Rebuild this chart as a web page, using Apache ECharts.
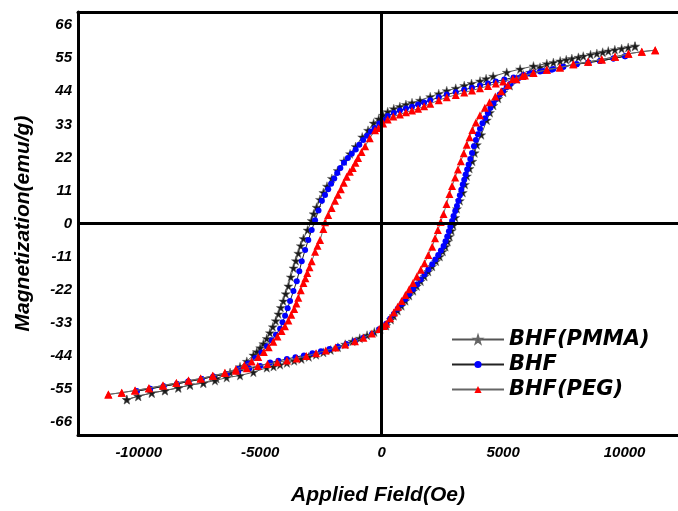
<!DOCTYPE html>
<html>
<head>
<meta charset="utf-8">
<script src="https://cdn.jsdelivr.net/npm/echarts@6/dist/echarts.min.js"></script>
<style>
html,body{margin:0;padding:0;background:#fff;}
#chart{width:678px;height:511px;}
</style>
</head>
<body>
<div id="chart"></div>
<script>
// ---- data: [Applied Field (Oe), Magnetization (emu/g)] ----
const seriesNames = ['BHF(PMMA)', 'BHF', 'BHF(PEG)'];
const xTickLabels = [-10000, -5000, 0, 5000, 10000];
const yTickLabels = [-66, -55, -44, -33, -22, -11, 0, 11, 22, 33, 44, 55, 66];

const pmmaDown = [[10430,59.0],[9880,58.2],[9330,57.4],[8860,56.6],[8300,55.7],[7830,54.9],[7350,54.1],[6800,53.2],[6250,52.4],[5700,51.4],[5150,50.3],[4590,49.0],[4300,48.2],[4050,47.4],[3700,46.6],[3400,45.9],[3050,45.0],[2680,44.2],[2350,43.2],[2000,42.2],[1580,41.0],[1250,40.2],[1000,39.6],[750,38.9],[500,38.2],[250,37.2],[60,36.0],[-120,34.8],[-330,33.4],[-560,31.0],[-800,28.8],[-1070,25.6],[-1300,23.2],[-1550,20.8],[-1810,17.6],[-2050,15.0],[-2250,12.4],[-2400,10.3],[-2540,8.0],[-2680,5.4],[-2800,3.2],[-2885,1.0],[-3050,-2.2],[-3220,-5.0],[-3330,-7.4],[-3430,-9.9],[-3530,-12.4],[-3630,-14.8],[-3740,-17.8],[-3840,-20.8],[-3950,-23.4],[-4050,-25.8],[-4150,-28.0],[-4250,-30.1],[-4360,-32.4],[-4480,-34.4],[-4600,-36.4],[-4730,-38.3],[-4870,-40.0],[-5000,-41.4],[-5140,-42.7],[-5280,-43.8],[-5550,-45.9],[-5830,-47.7],[-6240,-49.6],[-6800,-51.6],[-7340,-53.1],[-7890,-53.8],[-8370,-54.7],[-8920,-55.6],[-9465,-56.4],[-10020,-57.5],[-10490,-58.6]];
const pmmaUp = [[-10490,-58.6],[-10020,-57.5],[-9465,-56.4],[-8920,-55.6],[-8370,-54.7],[-7890,-53.7],[-7340,-53.1],[-6860,-52.3],[-6380,-51.3],[-5830,-50.6],[-5280,-49.5],[-4730,-48.0],[-4450,-47.6],[-4180,-47.0],[-3900,-46.4],[-3600,-45.7],[-3300,-45.1],[-3000,-44.4],[-2700,-43.7],[-2400,-42.9],[-2100,-42.1],[-1800,-41.2],[-1500,-40.2],[-1200,-39.2],[-900,-38.2],[-600,-37.2],[-300,-36.1],[-50,-35.1],[190,-34.0],[380,-32.0],[500,-30.7],[660,-29.0],[820,-27.4],[980,-25.7],[1135,-24.0],[1300,-22.4],[1450,-20.8],[1610,-19.2],[1765,-17.6],[1920,-16.0],[2080,-14.3],[2240,-12.6],[2395,-11.0],[2520,-9.3],[2630,-7.7],[2720,-6.0],[2800,-4.3],[2880,-2.4],[2950,-0.6],[3030,2.0],[3100,4.9],[3220,7.6],[3340,10.3],[3430,13.0],[3510,15.8],[3620,18.3],[3735,20.7],[3830,23.5],[3920,26.2],[4100,29.5],[4330,34.4],[4460,36.9],[4600,39.3],[4800,41.6],[5010,43.7],[5280,45.9],[5560,48.1],[5830,49.4],[6110,50.3],[6520,52.0],[7070,53.6],[7600,54.5],[8100,55.3],[8600,56.2],[9100,57.0],[9600,57.8],[10150,58.6],[10430,59.0]];

const bhfDown = [[10020,55.7],[9540,54.9],[8990,54.1],[8510,53.6],[8030,53.0],[7480,52.2],[7070,51.4],[6650,50.8],[6250,50.2],[5830,49.4],[5430,48.6],[5050,47.9],[4700,47.3],[4380,46.6],[4050,45.9],[3720,45.2],[3400,44.5],[3050,43.7],[2680,42.9],[2350,42.0],[2000,41.0],[1750,40.3],[1500,39.6],[1250,38.9],[1000,38.3],[750,37.6],[500,36.8],[250,35.8],[60,34.4],[-100,33.3],[-280,31.8],[-440,30.6],[-600,29.2],[-760,27.8],[-920,26.2],[-1070,24.6],[-1230,23.2],[-1390,21.8],[-1550,20.2],[-1700,18.5],[-1830,16.8],[-1950,15.0],[-2080,13.2],[-2200,11.4],[-2330,9.5],[-2460,7.6],[-2600,4.3],[-2740,1.1],[-2880,-2.2],[-3020,-5.5],[-3150,-8.8],[-3290,-12.6],[-3390,-15.9],[-3495,-19.2],[-3630,-22.5],[-3770,-25.8],[-3870,-28.2],[-3975,-30.7],[-4080,-32.9],[-4180,-35.0],[-4350,-37.0],[-4525,-38.9],[-4720,-40.9],[-4950,-42.9],[-5200,-44.8],[-5500,-46.6],[-5900,-48.4],[-6380,-50.1],[-6930,-50.9],[-7410,-51.8],[-7960,-52.6],[-8430,-53.4],[-8980,-54.2],[-9530,-55.0],[-10080,-55.8]];
const bhfUp = [[-10080,-55.8],[-9530,-55.0],[-8980,-54.2],[-8430,-53.4],[-7960,-52.6],[-7410,-51.8],[-6930,-50.9],[-6380,-50.1],[-5900,-49.2],[-5450,-48.3],[-5000,-47.4],[-4590,-46.3],[-4250,-45.7],[-3900,-45.1],[-3550,-44.5],[-3200,-43.9],[-2850,-43.2],[-2500,-42.5],[-2150,-41.8],[-1800,-41.0],[-1450,-40.1],[-1100,-39.1],[-750,-38.0],[-400,-36.8],[-100,-35.2],[190,-33.4],[350,-31.7],[500,-30.1],[660,-28.4],[820,-26.8],[980,-25.1],[1135,-23.5],[1290,-21.9],[1450,-20.3],[1610,-18.6],[1765,-17.0],[1920,-15.3],[2080,-13.6],[2210,-12.0],[2330,-10.5],[2440,-9.0],[2550,-7.5],[2630,-5.9],[2700,-4.3],[2770,-2.6],[2830,-1.0],[2900,0.8],[2960,2.5],[3030,4.2],[3100,5.8],[3160,7.6],[3220,9.4],[3280,11.2],[3340,13.0],[3400,14.6],[3460,16.3],[3520,18.0],[3580,19.6],[3650,21.5],[3720,23.5],[3800,25.7],[3880,27.8],[3960,29.7],[4050,31.5],[4150,33.4],[4260,35.0],[4370,36.8],[4480,38.5],[4600,40.0],[4720,41.5],[4860,42.9],[5000,44.2],[5150,45.4],[5300,46.5],[5470,47.5],[5650,48.4],[5870,49.2],[6100,49.9],[6520,50.6],[7000,51.2],[7480,52.2],[8030,53.0],[8510,53.6],[8990,54.1],[9540,54.9],[10020,55.7]];

const pegDown = [[11260,57.7],[10710,57.2],[10160,56.5],[9610,55.5],[9060,54.6],[8500,53.8],[7890,53.0],[7340,51.9],[6800,51.2],[6250,50.1],[5800,49.1],[5400,48.1],[5000,47.3],[4700,46.6],[4380,45.8],[4050,45.0],[3720,44.3],[3400,43.6],[3050,42.8],[2680,42.0],[2350,41.0],[2000,39.9],[1750,39.0],[1500,38.2],[1250,37.6],[1000,37.0],[750,36.3],[480,35.6],[250,34.6],[60,33.3],[-126,31.8],[-272,31.0],[-490,28.4],[-680,25.7],[-830,23.8],[-970,21.8],[-1080,20.2],[-1190,18.5],[-1310,17.2],[-1440,15.6],[-1560,13.6],[-1680,11.4],[-1800,9.6],[-1920,7.6],[-2060,5.2],[-2200,2.8],[-2330,0.4],[-2400,-1.8],[-2535,-5.5],[-2640,-7.4],[-2740,-9.4],[-2880,-12.6],[-2970,-14.6],[-3060,-16.5],[-3140,-18.2],[-3220,-19.8],[-3330,-22.2],[-3430,-24.7],[-3510,-26.6],[-3600,-28.5],[-3720,-30.4],[-3840,-32.3],[-3980,-34.2],[-4120,-35.8],[-4290,-37.6],[-4460,-39.4],[-4650,-41.2],[-4850,-42.8],[-5080,-44.4],[-5350,-45.9],[-5650,-47.2],[-6000,-48.5],[-6450,-49.7],[-6950,-50.7],[-7450,-51.6],[-7950,-52.3],[-8450,-53.1],[-9000,-53.9],[-9580,-54.8],[-10150,-55.6],[-10700,-56.3],[-11250,-56.9]];
const pegUp = [[-11250,-56.9],[-10700,-56.3],[-10150,-55.6],[-9580,-54.8],[-9000,-53.9],[-8450,-53.1],[-7950,-52.3],[-7450,-51.6],[-6950,-50.7],[-6450,-49.8],[-6000,-49.0],[-5550,-48.2],[-5100,-47.4],[-4700,-46.8],[-4300,-46.2],[-3900,-45.6],[-3500,-44.9],[-3100,-44.1],[-2700,-43.2],[-2300,-42.3],[-1900,-41.3],[-1500,-40.3],[-1100,-39.2],[-750,-38.0],[-400,-36.6],[-100,-35.1],[100,-34.1],[190,-33.4],[350,-31.5],[500,-29.6],[660,-27.7],[820,-25.8],[980,-23.8],[1135,-21.9],[1290,-19.8],[1450,-17.6],[1610,-15.4],[1765,-13.2],[1920,-10.5],[2080,-7.7],[2200,-4.9],[2315,-2.2],[2430,0.5],[2550,3.2],[2670,6.5],[2790,9.8],[2900,12.5],[3025,15.3],[3140,18.0],[3260,20.7],[3380,23.4],[3500,26.2],[3620,28.7],[3735,31.1],[3880,33.6],[4050,36.0],[4250,38.5],[4440,40.4],[4680,42.3],[4920,44.0],[5200,46.0],[5550,48.0],[5900,49.3],[6250,50.1],[6800,51.2],[7340,51.9],[7890,53.0],[8500,53.8],[9060,54.6],[9610,55.5],[10160,56.5],[10710,57.2],[11260,57.7]];

const STAR = 'path://M50,0 L61,35 L98,35 L68,57 L79,91 L50,70 L21,91 L32,57 L2,35 L39,35 Z';
const FONT = "'Liberation Sans', Arial, sans-serif";
const plain = v => String(v);

const chart = echarts.init(document.getElementById('chart'), null, {renderer: 'canvas'});
chart.setOption({
  animation: false,
  backgroundColor: '#ffffff',
  grid: {left: 78, right: 0, top: 12, bottom: 70, containLabel: false},
  legend: {
    orient: 'vertical',
    left: 446, top: 324,
    itemWidth: 52, itemHeight: 9, itemGap: 4,
    data: seriesNames,
    textStyle: {fontFamily: "'DejaVu Sans', sans-serif", fontSize: 21, fontWeight: 'bold', fontStyle: 'italic', color: '#000', lineHeight: 21}
  },
  xAxis: [{
    type: 'value', min: -12500, max: 12200, position: 'bottom',
    name: 'Applied Field(Oe)', nameLocation: 'middle', nameGap: 50,
    nameTextStyle: {fontFamily: FONT, fontSize: 21, fontWeight: 'bold', fontStyle: 'italic', color: '#000'},
    axisLine: {show: true, onZero: false, lineStyle: {color: '#000', width: 3}},
    axisTick: {show: false},
    splitLine: {show: false},
    axisLabel: {customValues: xTickLabels, formatter: plain, margin: 10, fontFamily: FONT, fontSize: 15, fontWeight: 'bold', fontStyle: 'italic', color: '#000'}
  }, {
    type: 'value', min: -12500, max: 12200, position: 'top',
    axisLine: {show: true, onZero: false, lineStyle: {color: '#000', width: 3}},
    axisTick: {show: false}, axisLabel: {show: false}, splitLine: {show: false}
  }],
  yAxis: {
    type: 'value', min: -70.4, max: 70.4,
    name: 'Magnetization(emu/g)', nameLocation: 'middle', nameGap: 44, nameRotate: 90,
    nameTextStyle: {fontFamily: FONT, fontSize: 21, fontWeight: 'bold', fontStyle: 'italic', color: '#000'},
    axisLine: {show: true, onZero: false, lineStyle: {color: '#000', width: 3}},
    axisTick: {show: false},
    splitLine: {show: false},
    axisLabel: {customValues: yTickLabels, formatter: plain, margin: 6, fontFamily: FONT, fontSize: 15, fontWeight: 'bold', fontStyle: 'italic', color: '#000'}
  },
  series: [{
    name: seriesNames[0], type: 'line', data: pmmaDown.concat(pmmaUp),
    symbol: STAR, symbolSize: 9, showAllSymbol: true,
    lineStyle: {color: '#555555', width: 1},
    itemStyle: {color: '#1a1a1a', borderColor: '#666', borderWidth: 0.5},
    markLine: {
      silent: true, symbol: 'none', animation: false,
      label: {show: false},
      lineStyle: {color: '#000', width: 3, type: 'solid'},
      emphasis: {disabled: true},
      data: [{xAxis: 0}, {yAxis: 0}]
    },
    z: 2
  }, {
    name: seriesNames[1], type: 'line', data: bhfDown.concat(bhfUp),
    symbol: 'circle', symbolSize: 6, showAllSymbol: true,
    lineStyle: {color: '#222222', width: 1},
    itemStyle: {color: '#0000ff'},
    z: 3
  }, {
    name: seriesNames[2], type: 'line', data: pegDown.concat(pegUp),
    symbol: 'triangle', symbolSize: 8, showAllSymbol: true,
    lineStyle: {color: '#666666', width: 1},
    itemStyle: {color: '#ff0000'},
    z: 4
  }]
});
</script>
</body>
</html>
